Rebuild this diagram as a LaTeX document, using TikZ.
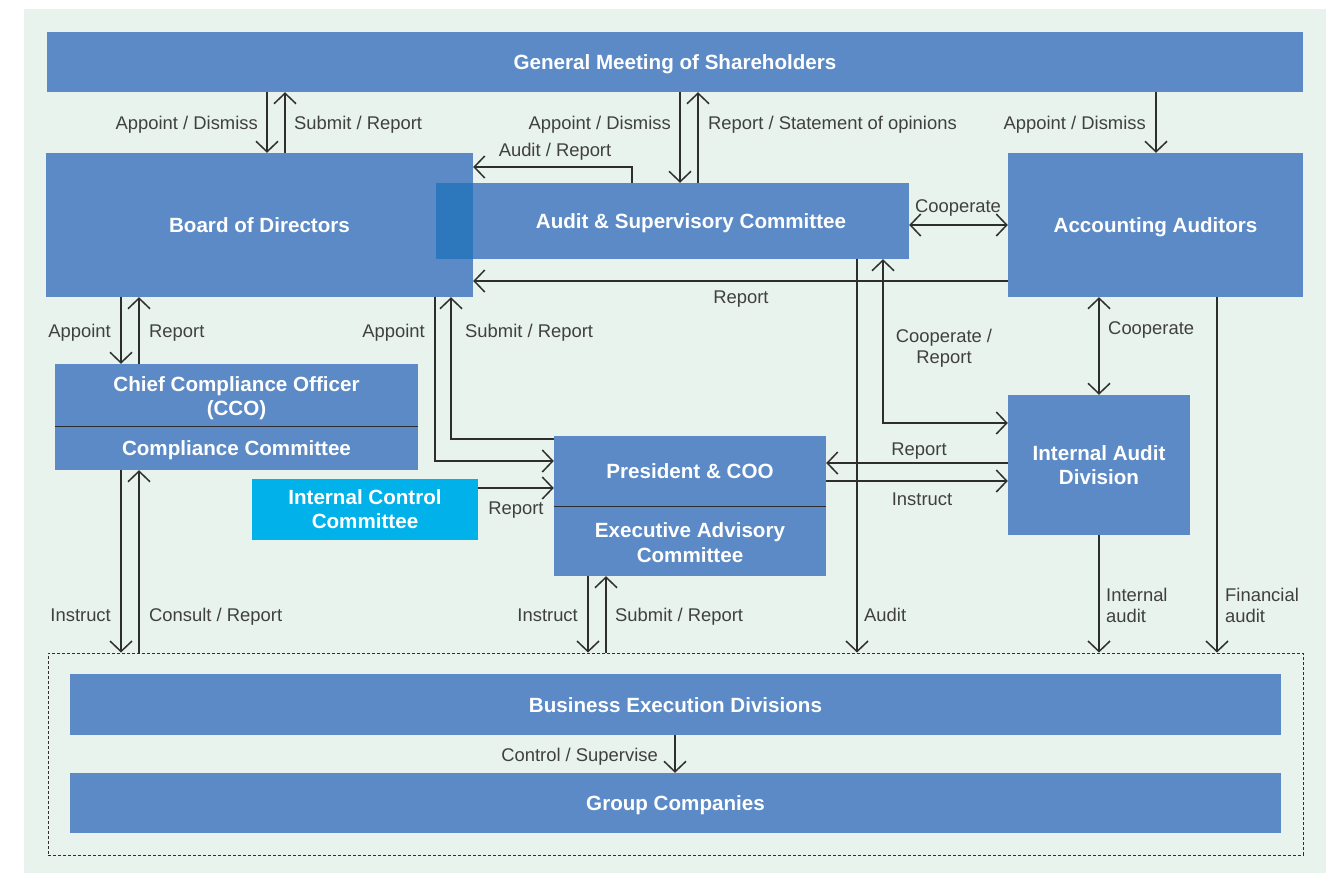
\documentclass[tikz,border=0pt]{standalone}
\usepackage{fontspec}
\setmainfont{Liberation Sans}
\usetikzlibrary{arrows.meta,calc}
\definecolor{bgc}{HTML}{E8F3EE}
\definecolor{boxblue}{HTML}{5B8AC6}
\definecolor{overlapc}{HTML}{2D77BC}
\definecolor{cyanbox}{HTML}{00B1EA}
\definecolor{lnc}{HTML}{2E2E2E}
\definecolor{lblc}{HTML}{404040}
\newcommand\myboxfont{\fontsize{20.6}{24.5}\selectfont\bfseries}
\newcommand\mylblfont{\fontsize{18.4}{21}\selectfont}
\begin{document}
\begin{tikzpicture}[x=1pt,y=-1pt,
  box/.style={fill=boxblue, draw=none, inner sep=0pt, text=white, font=\myboxfont, text height=15pt, text depth=0pt},
  mbox/.style={fill=boxblue, draw=none, inner sep=0pt, text=white, font=\myboxfont, align=center},
  btext/.style={inner sep=0pt, text=white, font=\myboxfont, text height=15pt, text depth=0pt},
  mbtext/.style={inner sep=0pt, text=white, font=\myboxfont, align=center},
  lbl/.style={inner sep=0pt, text=lblc, font=\mylblfont, text height=14pt, text depth=0pt},
  mlbl/.style={inner sep=0pt, text=lblc, font=\mylblfont, align=center},
  tip/.tip={Straight Barb[length=10.5pt,width=22pt,line width=1.5pt]},
  arr/.style={draw=lnc, line width=1.5pt, -tip},
  dbl/.style={draw=lnc, line width=1.5pt, tip-tip}]
\useasboundingbox (0,0) rectangle (1335,873);
\fill[white] (0,0) rectangle (1335,873);
\fill[bgc] (24,9) rectangle (1326,873);

% boxes
\node[box, minimum width=1256pt, minimum height=60pt] (gm) at (675,62) {General Meeting of Shareholders};
\node[box, minimum width=427pt, minimum height=144pt] (board) at (259.5,225) {Board of Directors};
\node[box, minimum width=473pt, minimum height=76pt] (asc) at (672.5,221) {};
\fill[overlapc] (asc.north west) rectangle (board.east |- asc.south);
\node[btext] (asct) at (691,221) {Audit \& Supervisory Committee};
\node[box, minimum width=295pt, minimum height=144pt] (aa) at (1155.5,225) {Accounting Auditors};
\node[mbox, minimum width=182pt, minimum height=140pt] (iad) at (1099,465) {Internal Audit\\Division};
\node[box, minimum width=363pt, minimum height=106pt] (cco) at (236.5,417) {};
\draw[lnc, line width=1pt] (cco.west |- 0,426) -- (cco.east |- 0,426);
\node[mbtext] (ccot) at (236.5,398) {Chief Compliance Officer\\(CCO)};
\node[btext] (cct) at (236.5,447.5) {Compliance Committee};
\node[mbox, fill=cyanbox, minimum width=226pt, minimum height=61pt] (icc) at (365,509) {Internal Control\\Committee};
\node[box, minimum width=272pt, minimum height=140pt] (pres) at (690,506) {};
\draw[lnc, line width=1pt] (pres.west |- 0,506) -- (pres.east |- 0,506);
\node[btext] (prest) at (690,470.5) {President \& COO};
\node[mbtext] (eact) at (690,542.5) {Executive Advisory\\Committee};
\node[draw=lnc, dashed, dash pattern=on 3pt off 2pt, line width=0.9pt, inner sep=0pt, minimum width=1255pt, minimum height=202pt] (grp) at (675.5,754) {};
\node[box, minimum width=1211pt, minimum height=61pt] (bed) at (675.5,704.5) {Business Execution Divisions};
\node[box, minimum width=1211pt, minimum height=60pt] (gc) at (675.5,803) {Group Companies};

% connectors
\draw[arr] (267,0 |- gm.south) -- (267,0 |- board.north);
\draw[arr] (285,0 |- board.north) -- (285,0 |- gm.south);
\draw[arr] (680,0 |- gm.south) -- (680,0 |- asc.north);
\draw[arr] (698,0 |- asc.north) -- (698,0 |- gm.south);
\draw[arr] (1156,0 |- gm.south) -- (1156,0 |- aa.north);
\draw[arr] (632,0 |- asc.north) |- (board.east |- 0,167);
\draw[dbl] (asc.east |- 0,225) -- (aa.west |- 0,225);
\draw[arr] (aa.west |- 0,281) -- (board.east |- 0,281);
\draw[arr] (857,0 |- asc.south) -- (857,0 |- grp.north);
\draw[dbl] (883,0 |- asc.south) |- (iad.west |- 0,423);
\draw[arr] (435,0 |- board.south) |- (pres.west |- 0,461);
\draw[arr] (pres.west |- 0,439) -| (451,0 |- board.south);
\draw[arr] (icc.east |- 0,488) -- (pres.west |- 0,488);
\draw[arr] (iad.west |- 0,463) -- (pres.east |- 0,463);
\draw[arr] (pres.east |- 0,481) -- (iad.west |- 0,481);
\draw[dbl] (1099,0 |- aa.south) -- (1099,0 |- iad.north);
\draw[arr] (1099,0 |- iad.south) -- (1099,0 |- grp.north);
\draw[arr] (1217,0 |- aa.south) -- (1217,0 |- grp.north);
\draw[arr] (121,0 |- board.south) -- (121,0 |- cco.north);
\draw[arr] (139,0 |- cco.north) -- (139,0 |- board.south);
\draw[arr] (121,0 |- cco.south) -- (121,0 |- grp.north);
\draw[arr] (139,0 |- grp.north) -- (139,0 |- cco.south);
\draw[arr] (588,0 |- pres.south) -- (588,0 |- grp.north);
\draw[arr] (606,0 |- grp.north) -- (606,0 |- pres.south);
\draw[arr] (675,0 |- bed.south) -- (675,0 |- gc.north);

% labels
\node[lbl, anchor=east] at (258,122) {Appoint / Dismiss};
\node[lbl, anchor=west] at (294,122) {Submit / Report};
\node[lbl, anchor=east] at (671,122) {Appoint / Dismiss};
\node[lbl, anchor=west] at (708,122) {Report / Statement of opinions};
\node[lbl, anchor=east] at (1146,122) {Appoint / Dismiss};
\node[lbl] at (555,149.5) {Audit / Report};
\node[lbl] at (958,205) {Cooperate};
\node[lbl] at (741,296) {Report};
\node[lbl, anchor=east] at (111,330.5) {Appoint};
\node[lbl, anchor=west] at (149,330.5) {Report};
\node[lbl, anchor=east] at (425,330.5) {Appoint};
\node[lbl, anchor=west] at (465,330.5) {Submit / Report};
\node[mlbl] at (944,348.5) {Cooperate /\\Report};
\node[lbl, anchor=west] at (1108,327.5) {Cooperate};
\node[lbl] at (919,448) {Report};
\node[lbl] at (922,498) {Instruct};
\node[lbl] at (516,507.5) {Report};
\node[lbl, anchor=east] at (111,614.5) {Instruct};
\node[lbl, anchor=west] at (149,614.5) {Consult / Report};
\node[lbl, anchor=east] at (578,614.5) {Instruct};
\node[lbl, anchor=west] at (615,614.5) {Submit / Report};
\node[lbl, anchor=west] at (864,614.5) {Audit};
\node[mlbl, anchor=west, align=left] at (1106,605.5) {Internal\\audit};
\node[mlbl, anchor=west, align=left] at (1225,605.5) {Financial\\audit};
\node[lbl, anchor=east] at (658,754.5) {Control / Supervise};
\end{tikzpicture}
\end{document}
